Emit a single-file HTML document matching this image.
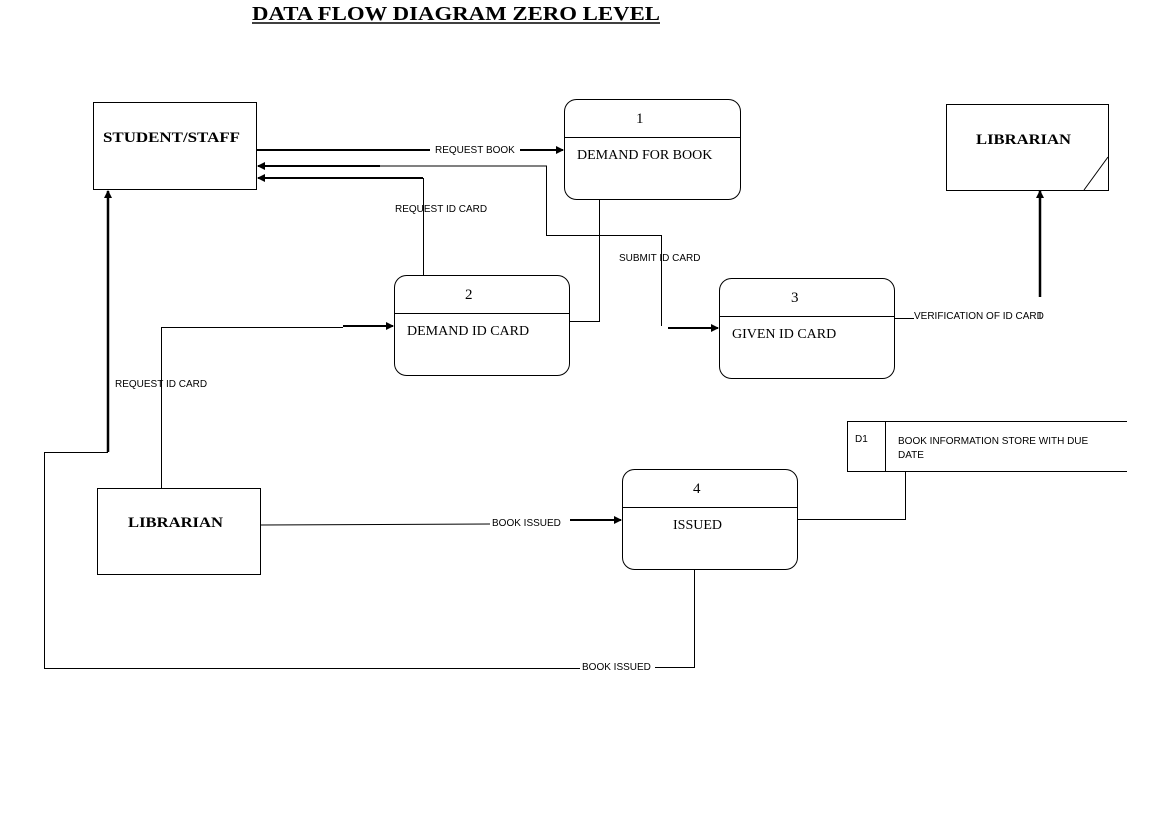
<!DOCTYPE html>
<html><head><meta charset="utf-8"><style>
html,body{margin:0;padding:0;background:#fff;}
svg{display:block;}
.s{font-family:"Liberation Sans",sans-serif;font-size:10px;fill:#000;}
.r{font-family:"Liberation Serif",serif;fill:#000;}
</style></head><body>
<svg width="1152" height="828" viewBox="0 0 1152 828" xmlns="http://www.w3.org/2000/svg">
<defs><marker id="a" markerWidth="8" markerHeight="8" refX="7" refY="4" orient="auto" markerUnits="userSpaceOnUse"><path d="M0,0 L8,4 L0,8 z" fill="#000"/></marker></defs>
<text x="252" y="20" class="r" font-size="20" font-weight="bold" textLength="408" lengthAdjust="spacingAndGlyphs">DATA FLOW DIAGRAM ZERO LEVEL</text>
<line x1="252" y1="23" x2="660" y2="23" stroke="#000" stroke-width="1.5"/>
<g fill="none" stroke="#000" stroke-width="1">
<rect x="93.5" y="102.5" width="163" height="87"/>
<rect x="564.5" y="99.5" width="176" height="100" rx="12"/><line x1="564" y1="137.5" x2="741" y2="137.5"/>
<rect x="946.5" y="104.5" width="162" height="86"/><line x1="1108" y1="157" x2="1084" y2="190"/>
<rect x="394.5" y="275.5" width="175" height="100" rx="12"/><line x1="394" y1="313.5" x2="570" y2="313.5"/>
<rect x="719.5" y="278.5" width="175" height="100" rx="12"/><line x1="719" y1="316.5" x2="895" y2="316.5"/>
<rect x="97.5" y="488.5" width="163" height="86"/>
<rect x="622.5" y="469.5" width="175" height="100" rx="12"/><line x1="622" y1="507.5" x2="798" y2="507.5"/>
<polyline points="1127,421.5 847.5,421.5 847.5,471.5 1127,471.5"/><line x1="885.5" y1="421" x2="885.5" y2="471"/>
<line x1="257" y1="150" x2="430" y2="150" stroke-width="2"/>
<line x1="520" y1="150" x2="563" y2="150" stroke-width="2" marker-end="url(#a)"/>
<polyline points="380,166 546.5,166 546.5,235.5 661.5,235.5 661.5,326"/>
<line x1="380" y1="166" x2="258" y2="166" stroke-width="2" marker-end="url(#a)"/>
<line x1="668" y1="328" x2="718" y2="328" stroke-width="2" marker-end="url(#a)"/>
<line x1="423.5" y1="275" x2="423.5" y2="178"/>
<line x1="423" y1="178" x2="258" y2="178" stroke-width="2" marker-end="url(#a)"/>
<polyline points="599.5,199 599.5,321.5 569,321.5"/>
<polyline points="161.5,488 161.5,327.5 343,327.5"/>
<line x1="343" y1="326" x2="393" y2="326" stroke-width="2" marker-end="url(#a)"/>
<line x1="108" y1="452" x2="108" y2="191" stroke-width="2.5" marker-end="url(#a)"/>
<polyline points="108,452.5 44.5,452.5 44.5,668.5 580,668.5"/>
<polyline points="655,667.5 694.5,667.5 694.5,569"/>
<line x1="261" y1="525" x2="490" y2="524"/>
<line x1="570" y1="520" x2="621" y2="520" stroke-width="2" marker-end="url(#a)"/>
<polyline points="797,519.5 905.5,519.5 905.5,471"/>
<line x1="895" y1="318.5" x2="914" y2="318.5"/>
<line x1="1040" y1="312" x2="1040" y2="318"/>
<line x1="1040" y1="297" x2="1040" y2="191" stroke-width="2.5" marker-end="url(#a)"/>
</g>
<text x="103" y="142" class="r" font-size="15" font-weight="bold" textLength="137" lengthAdjust="spacingAndGlyphs">STUDENT/STAFF</text>
<text x="636" y="123" class="r" font-size="15">1</text>
<text x="577" y="159" class="r" font-size="14">DEMAND FOR BOOK</text>
<text x="976" y="144" class="r" font-size="15" font-weight="bold" textLength="95" lengthAdjust="spacingAndGlyphs">LIBRARIAN</text>
<text x="465" y="299" class="r" font-size="15">2</text>
<text x="407" y="335" class="r" font-size="14">DEMAND ID CARD</text>
<text x="791" y="302" class="r" font-size="15">3</text>
<text x="732" y="338" class="r" font-size="14">GIVEN ID CARD</text>
<text x="128" y="527" class="r" font-size="15" font-weight="bold" textLength="95" lengthAdjust="spacingAndGlyphs">LIBRARIAN</text>
<text x="693" y="493" class="r" font-size="15">4</text>
<text x="673" y="529" class="r" font-size="14">ISSUED</text>
<text x="855" y="442" class="s">D1</text>
<text x="898" y="444" class="s">BOOK INFORMATION STORE WITH DUE</text>
<text x="898" y="458" class="s">DATE</text>
<text x="435" y="153" class="s">REQUEST BOOK</text>
<text x="395" y="212" class="s">REQUEST ID CARD</text>
<text x="619" y="261" class="s">SUBMIT ID CARD</text>
<text x="115" y="387" class="s">REQUEST ID CARD</text>
<text x="914" y="319" class="s">VERIFICATION OF ID CARD</text>
<text x="492" y="526" class="s">BOOK ISSUED</text>
<text x="582" y="670" class="s">BOOK ISSUED</text>
</svg>
</body></html>
